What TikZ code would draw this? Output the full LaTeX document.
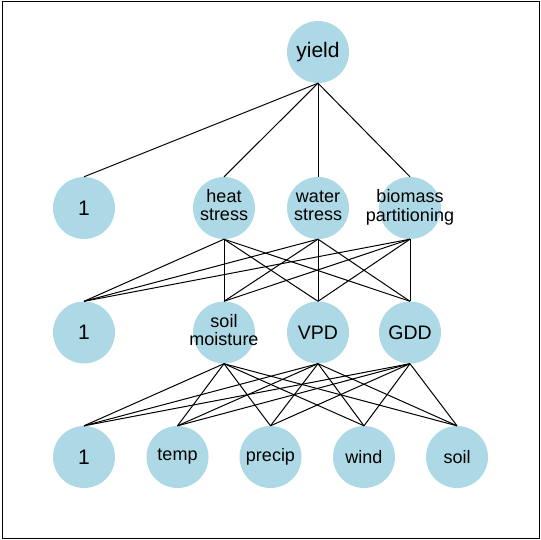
\documentclass[tikz,border=0pt]{standalone}
\usepackage{fontspec}
\setmainfont{Liberation Sans}
\usepackage{tikz}

\definecolor{nodeblue}{RGB}{173,216,230}
\newcommand{\stacked}[2]{\makebox[0pt]{\begin{tabular}{@{}c@{}}#1\\#2\end{tabular}}}
\tikzset{
  var/.style={circle, fill=nodeblue, minimum size=62pt, inner sep=0pt,
    font=\fontsize{18}{18}\selectfont},
  big/.style={font=\fontsize{21}{21}\selectfont},
  link/.style={line width=1pt}
}

\begin{document}
\begin{tikzpicture}[x=1pt,y=-1pt]
    \useasboundingbox (0,0) rectangle (540,540);
    \draw[line width=0.9pt] (2,1.5) rectangle (539,538);
    % output
    \node[var, big] (yield) at (318,52) {yield};
    % first layer
    \node[var, big] (bias1) at (84,208) {1};
    \node[var] (heat) at (224,208) {\stacked{heat}{stress}};
    \node[var] (water) at (318,208) {\stacked{water}{stress}};
    \node[var] (biomass) at (410,208) {\stacked{biomass}{partitioning}};
    % second layer
    \node[var, big] (bias2) at (84,332.5) {1};
    \node[var] (moist) at (224,332.5) {\stacked{soil}{moisture}};
    \node[var, font=\fontsize{19.5}{19.5}\selectfont] (vpd) at (318,332.5) {VPD};
    \node[var, font=\fontsize{19.5}{19.5}\selectfont] (gdd) at (410,332.5) {GDD};
    % inputs
    \node[var, big] (bias3) at (84,457) {1};
    \node[var] (temp) at (177.5,457) {temp};
    \node[var] (precip) at (270.5,457) {precip};
    \node[var] (wind) at (364,457) {wind};
    \node[var] (soil) at (457,457) {soil};
    % connections
    \foreach \b in {bias1,heat,water,biomass}
        \draw[link] (yield.south) -- (\b.north);
    \foreach \a in {heat,water,biomass}
        \foreach \b in {bias2,moist,vpd,gdd}
            \draw[link] (\a.south) -- (\b.north);
    \foreach \a in {moist,vpd,gdd}
        \foreach \b in {bias3,temp,precip,wind,soil}
            \draw[link] (\a.south) -- (\b.north);
\end{tikzpicture}
\end{document}
